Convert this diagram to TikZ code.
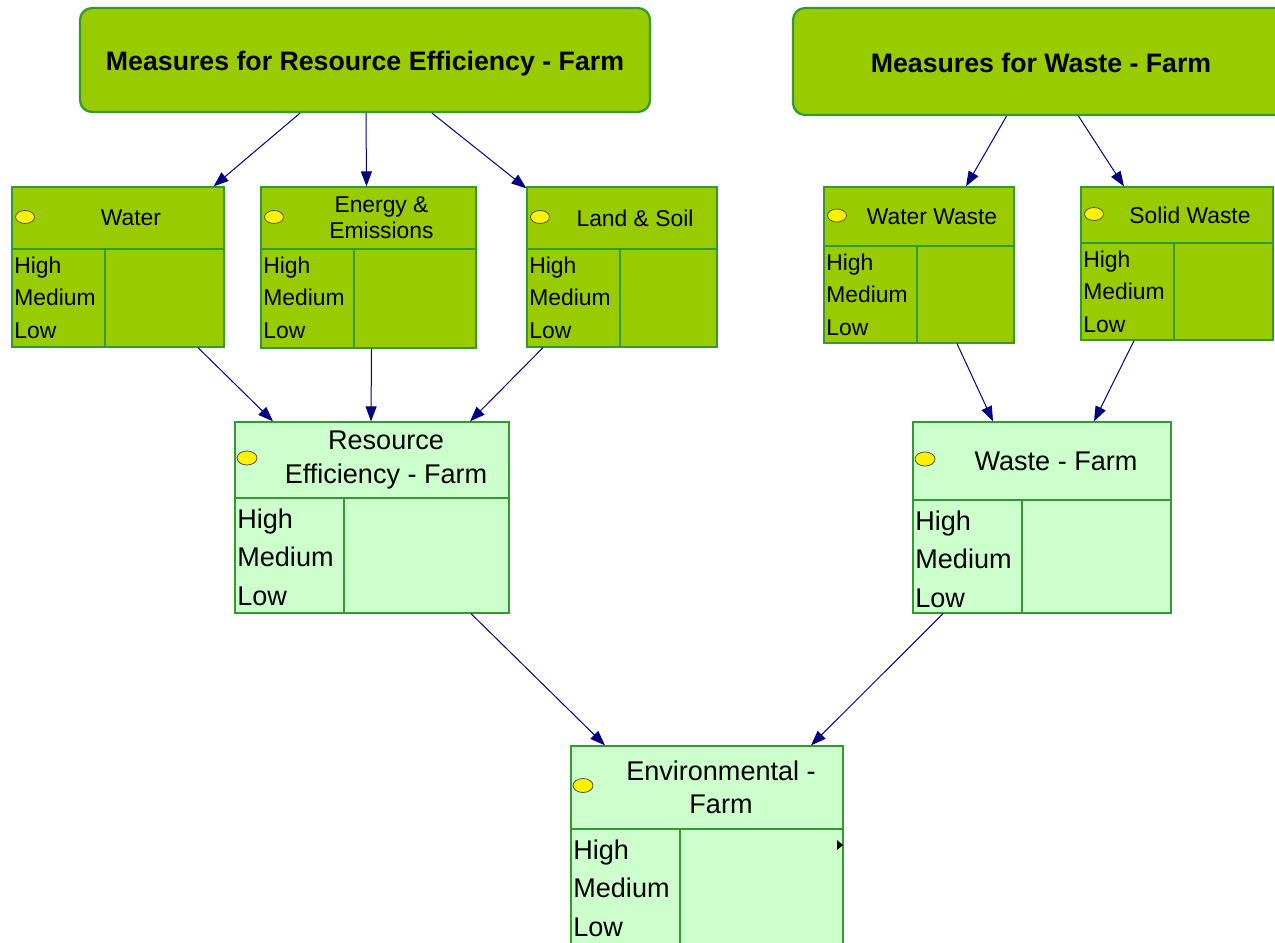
\documentclass[tikz,border=0pt]{standalone}
\usepackage{fontspec}
\setmainfont{Liberation Sans}
\usetikzlibrary{arrows.meta,fit,calc}

\definecolor{leaf}{HTML}{99CC00}
\definecolor{mint}{HTML}{CCFFCC}
\definecolor{rimgreen}{HTML}{339933}
\definecolor{ink}{HTML}{000080}

\tikzset{
  dark/.style={draw=rimgreen, fill=leaf, inner sep=0pt, line width=0.25mm},
  light/.style={draw=rimgreen, fill=mint, inner sep=0pt, line width=0.25mm},
  measure/.style={draw=rimgreen, fill=leaf, rounded corners=2.4mm, line width=0.45mm, inner sep=0pt},
  divider/.style={draw=rimgreen, line width=0.25mm},
  small/.style={font=\fontsize{13}{14.8}\selectfont, inner sep=0pt},
  big/.style={font=\fontsize{15.4}{18.8}\selectfont, inner sep=0pt},
  headline/.style={font=\bfseries\fontsize{15.2}{18}\selectfont, inner sep=0pt},
  bulb/.style={draw=black!70, fill=yellow, line width=0.15mm},
  link/.style={draw=ink, line width=0.2mm, -{Triangle[length=3mm,width=2.2mm]}},
}

% name, left, top, right, bottom, header line, column line, title
\newcommand{\darkbox}[8]{%
  \node[dark, fit={(#2,#3) (#4,#5)}] (#1) {};
  \draw[divider] (#2,#6) -- (#4,#6) (#7,#6) -- (#7,#5);
  \draw[bulb] (#2+13,{(#3+#6)/2-1}) ellipse [x radius=9.5, y radius=6.5];
  \node[small, align=center] (#1-t) at ({(#2+#4)/2+13},{(#3+#6)/2}) {#8};
  \node[small, anchor=base west] (#1-h) at (#2+2,#6+24) {High};
  \node[small, anchor=base west] (#1-m) at (#2+2,#6+56) {Medium};
  \node[small, anchor=base west] (#1-l) at (#2+2,#6+89) {Low};
}
\newcommand{\lightbox}[8]{%
  \node[light, fit={(#2,#3) (#4,#5)}] (#1) {};
  \draw[divider] (#2,#6) -- (#4,#6) (#7,#6) -- (#7,#5);
  \draw[bulb] (#2+12,{(#3+#6)/2-2}) ellipse [x radius=10, y radius=7];
  \node[big, align=center] (#1-t) at ({(#2+#4)/2+14},{(#3+#6)/2}) {#8};
  \node[big, anchor=base west] (#1-h) at (#2+2,#6+30) {High};
  \node[big, anchor=base west] (#1-m) at (#2+2,#6+68) {Medium};
  \node[big, anchor=base west] (#1-l) at (#2+2,#6+107) {Low};
}

\begin{document}
\begin{tikzpicture}[x=0.2mm,y=-0.2mm]
  \clip (0,0) rectangle (1275,942);

  % measures
  \node[measure, fit={(80,8) (650,112)}] (mres) {};
  \node[headline, anchor=base] (mres-t) at (365,70) {Measures for Resource Efficiency - Farm};
  \node[measure, fit={(793,8) (1290,115)}] (mwaste) {};
  \node[headline, anchor=base] (mwaste-t) at (1041,72) {Measures for Waste - Farm};

  % indicators
  \darkbox{water}{12}{187}{224}{347}{249}{105}{Water}
  \darkbox{energy}{261}{187}{476}{348}{249}{354}{Energy \&\\Emissions}
  \darkbox{land}{527}{187}{717}{347}{249}{620}{Land \& Soil}
  \darkbox{wwaste}{824}{187}{1014}{343}{246}{917}{Water Waste}
  \darkbox{swaste}{1081}{187}{1273}{340}{243}{1174}{Solid Waste}

  \lightbox{resfarm}{235}{422}{509}{613}{498}{344}{Resource\\Efficiency - Farm}
  \lightbox{wastefarm}{913}{422}{1171}{613}{500}{1022}{Waste - Farm}
  \lightbox{envfarm}{571}{746}{843}{950}{829}{680}{Environmental -\\Farm}
  \fill (837,840) -- (843,845) -- (837,850) -- cycle;

  % links
  \draw[link] ($(mres.south)+(-65,0)$) -- ($(water.north east)+(-11,0)$);
  \draw[link] ($(mres.south)+(1,0)$) -- ($(energy.north)+(-2,0)$);
  \draw[link] ($(mres.south)+(67,0)$) -- ($(land.north west)+(0,2)$);
  \draw[link] ($(mwaste.south)+(-35,0)$) -- ($(wwaste.north)+(47,0)$);
  \draw[link] ($(mwaste.south)+(37,0)$) -- ($(swaste.north)+(-53,0)$);
  \draw[link] ($(water.south)+(80,0)$) -- ($(resfarm.north)+(-99,0)$);
  \draw[link] ($(energy.south)+(3,0)$) -- ($(resfarm.north)+(-1,0)$);
  \draw[link] ($(land.south)+(-79,0)$) -- ($(resfarm.north)+(98,0)$);
  \draw[link] ($(wwaste.south)+(38,0)$) -- ($(wastefarm.north)+(-49,0)$);
  \draw[link] ($(swaste.south)+(-43,0)$) -- ($(wastefarm.north)+(52,0)$);
  \draw[link] ($(resfarm.south)+(99,0)$) -- ($(envfarm.north)+(-102,0)$);
  \draw[link] ($(wastefarm.south)+(-99,0)$) -- ($(envfarm.north)+(104,0)$);
\end{tikzpicture}
\end{document}
